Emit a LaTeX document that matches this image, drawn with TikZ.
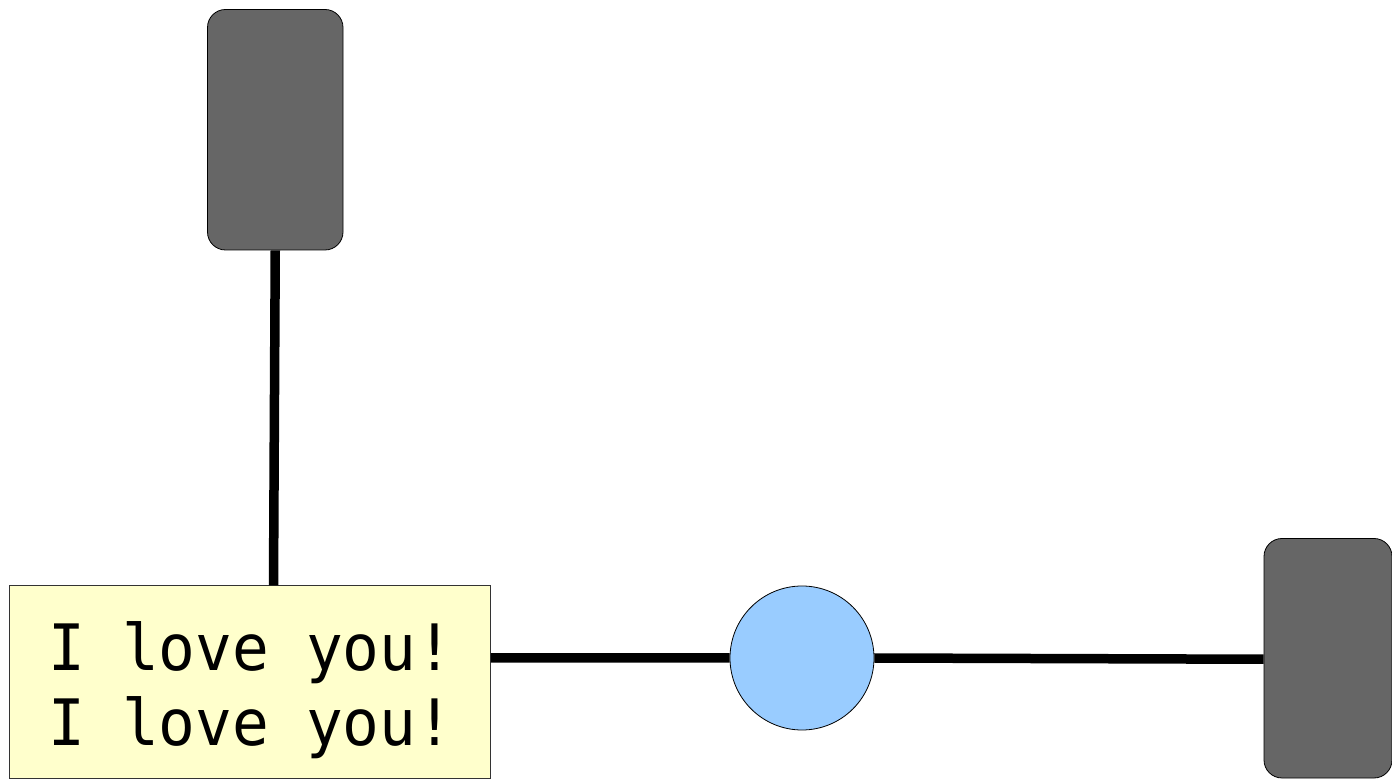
\documentclass[tikz,border=0pt]{standalone}
\usepackage{fontspec}
\newfontfamily\notefont[FakeStretch=0.955]{DejaVu Sans Mono}
\definecolor{boxgray}{HTML}{666666}
\definecolor{noteyellow}{HTML}{FFFFCC}
\definecolor{nodeblue}{HTML}{99CCFF}
\begin{document}
\begin{tikzpicture}[x=1pt,y=1pt,
  graybox/.style={draw=black,line width=0.8pt,fill=boxgray,rounded corners=18pt,inner sep=0pt},
  notebox/.style={draw=black!80,line width=0.8pt,fill=noteyellow,inner sep=0pt},
  bluecirc/.style={draw=black,line width=0.8pt,fill=nodeblue,circle,inner sep=0pt,minimum size=144pt},
  notetext/.style={font=\notefont\fontsize{64}{75}\selectfont,align=center,inner sep=0pt},
  wire/.style={line width=9.5pt,black}]
\useasboundingbox (0,0) rectangle (1392,779);
\node[graybox,minimum width=135.5pt,minimum height=240.5pt] (top) at (275.25,649.25) {};
\node[graybox,minimum width=128pt,minimum height=239.5pt] (right) at (1328,120.75) {};
\node[notebox,minimum width=481pt,minimum height=192.3pt] (note) at (250,97.15) {};
\node[notetext] (txt) at ([xshift=1pt,yshift=-8pt]note.center) {I love you!\\I love you!};
\node[bluecirc] (circ) at (802,121) {};
\coordinate (noteTop) at ([xshift=23.5pt]note.north);
\coordinate (noteRight) at ([yshift=24pt]note.east);
\coordinate (rightIn) at ([yshift=-1pt]right.west);
\draw[wire] (top.south) -- (noteTop);
\draw[wire] (noteRight) -- (circ.west);
\draw[wire] (circ.east) -- (rightIn);
\end{tikzpicture}
\end{document}
